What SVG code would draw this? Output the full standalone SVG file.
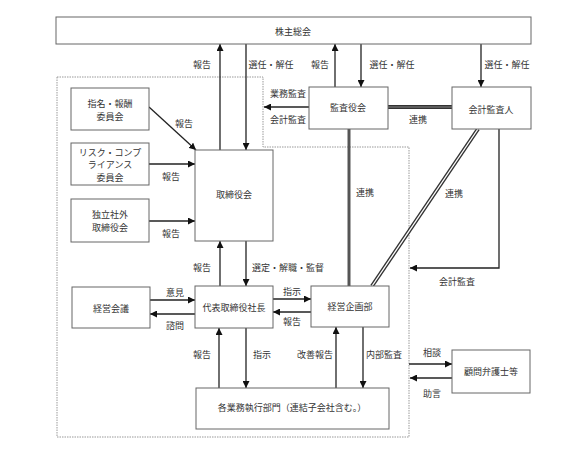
<svg xmlns="http://www.w3.org/2000/svg" width="587" height="450" viewBox="0 0 587 450">
<style>
.box{fill:#fff;stroke:#666;stroke-width:1}
text{font-family:"Noto Sans CJK JP","Noto Sans CJK SC",sans-serif;font-size:9px;fill:#333;text-anchor:middle;dominant-baseline:central}
.l{stroke:#222;stroke-width:1.3;fill:none}
.st{text-anchor:start}
</style>
<defs>
<marker id="a" viewBox="0 0 10 10" refX="10" refY="5" markerWidth="7" markerHeight="7" markerUnits="userSpaceOnUse" orient="auto"><path d="M0,0L10,5L0,10z" fill="#111"/></marker>
</defs>
<rect width="587" height="450" fill="#fff"/>
<path d="M57,77H263V147H409V437H57Z" fill="none" stroke="#999" stroke-width="1" stroke-dasharray="1.5,1"/>
<g id="connectors">
<line class="l" x1="220" y1="150" x2="220" y2="44" marker-end="url(#a)"/>
<line class="l" x1="246" y1="44" x2="246" y2="150" marker-end="url(#a)"/>
<line class="l" x1="335" y1="87" x2="335" y2="44" marker-end="url(#a)"/>
<line class="l" x1="361" y1="44" x2="361" y2="87" marker-end="url(#a)"/>
<line class="l" x1="481" y1="44" x2="481" y2="87" marker-end="url(#a)"/>
<line class="l" x1="149" y1="107" x2="196" y2="150" marker-end="url(#a)"/>
<line class="l" x1="149" y1="164" x2="195" y2="164" marker-end="url(#a)"/>
<line class="l" x1="149" y1="221" x2="195" y2="221" marker-end="url(#a)"/>
<line class="l" x1="309" y1="107" x2="264" y2="107" marker-end="url(#a)"/>
<line class="l" x1="220" y1="286" x2="220" y2="241" marker-end="url(#a)"/>
<line class="l" x1="246" y1="241" x2="246" y2="286" marker-end="url(#a)"/>
<line class="l" x1="150" y1="300" x2="195" y2="300" marker-end="url(#a)"/>
<line class="l" x1="195" y1="314" x2="150" y2="314" marker-end="url(#a)"/>
<line class="l" x1="273" y1="299" x2="311" y2="299" marker-end="url(#a)"/>
<line class="l" x1="311" y1="312" x2="273" y2="312" marker-end="url(#a)"/>
<line class="l" x1="219" y1="388" x2="219" y2="328" marker-end="url(#a)"/>
<line class="l" x1="246" y1="328" x2="246" y2="388" marker-end="url(#a)"/>
<line class="l" x1="336" y1="388" x2="336" y2="327" marker-end="url(#a)"/>
<line class="l" x1="363" y1="327" x2="363" y2="388" marker-end="url(#a)"/>
<polyline class="l" points="499,129 499,268 410,268" marker-end="url(#a)"/>
<line class="l" x1="409" y1="364" x2="452" y2="364" marker-end="url(#a)"/>
<line class="l" x1="452" y1="378" x2="410" y2="378" marker-end="url(#a)"/>
<line x1="349" y1="129" x2="349" y2="286" stroke="#555" stroke-width="3"/>
<line x1="478" y1="129" x2="372" y2="286" stroke="#333" stroke-width="4"/>
<line x1="478" y1="129" x2="372" y2="286" stroke="#fff" stroke-width="1.3"/>
<line x1="388" y1="107" x2="452" y2="107" stroke="#333" stroke-width="4"/>
<line x1="388" y1="107" x2="452" y2="107" stroke="#888" stroke-width="1.2"/>
</g>
<g id="labels">
<text x="202" y="64">報告</text>
<text x="271" y="64">選任・解任</text>
<text x="320" y="64">報告</text>
<text x="392" y="64">選任・解任</text>
<text x="507" y="64">選任・解任</text>
<text x="288" y="93">業務監査</text>
<text x="288" y="119">会計監査</text>
<text x="184" y="123">報告</text>
<text x="171" y="176">報告</text>
<text x="171" y="233">報告</text>
<text x="418" y="119">連携</text>
<text x="365" y="192">連携</text>
<text x="454" y="193">連携</text>
<text x="202" y="267">報告</text>
<text class="st" x="252" y="267">選定・解職・監督</text>
<text x="175" y="292">意見</text>
<text x="175" y="325">諮問</text>
<text x="292" y="291">指示</text>
<text x="292" y="321">報告</text>
<text x="457" y="281">会計監査</text>
<text x="202" y="354">報告</text>
<text x="262" y="354">指示</text>
<text x="315" y="354">改善報告</text>
<text x="384" y="354">内部監査</text>
<text x="432" y="352">相談</text>
<text x="432" y="393">助言</text>
</g>
<g id="kabunushi"><rect class="box" x="56" y="17" width="475" height="27"/><text x="293" y="31">株主総会</text></g>
<g id="shimei"><rect class="box" x="71" y="88" width="78" height="42"/><text x="110" y="103">指名・報酬</text><text x="110" y="116">委員会</text></g>
<g id="risk"><rect class="box" x="71" y="143" width="78" height="42"/><text x="110" y="152">リスク・コンプ</text><text x="110" y="164.5">ライアンス</text><text x="110" y="177">委員会</text></g>
<g id="dokuritsu"><rect class="box" x="71" y="199" width="78" height="43"/><text x="110" y="214.5">独立社外</text><text x="110" y="227.5">取締役会</text></g>
<g id="torishimariyakukai"><rect class="box" x="195" y="150" width="78" height="91"/><text x="234" y="194">取締役会</text></g>
<g id="kansayakukai"><rect class="box" x="309" y="87" width="79" height="42"/><text x="348" y="107">監査役会</text></g>
<g id="kaikeikansanin"><rect class="box" x="452" y="87" width="79" height="42"/><text x="491" y="109">会計監査人</text></g>
<g id="keieikaigi"><rect class="box" x="72" y="287" width="78" height="41"/><text x="111" y="308">経営会議</text></g>
<g id="shacho"><rect class="box" x="195" y="286" width="78" height="42"/><text x="234" y="307">代表取締役社長</text></g>
<g id="keieikikaku"><rect class="box" x="311" y="286" width="78" height="41"/><text x="350" y="306">経営企画部</text></g>
<g id="kakugyomu"><rect class="box" x="196" y="388" width="193" height="41"/><text x="292" y="407">各業務執行部門（連結子会社含む。）</text></g>
<g id="komon"><rect class="box" x="452" y="350" width="78" height="43"/><text x="491" y="371">顧問弁護士等</text></g>
</svg>
